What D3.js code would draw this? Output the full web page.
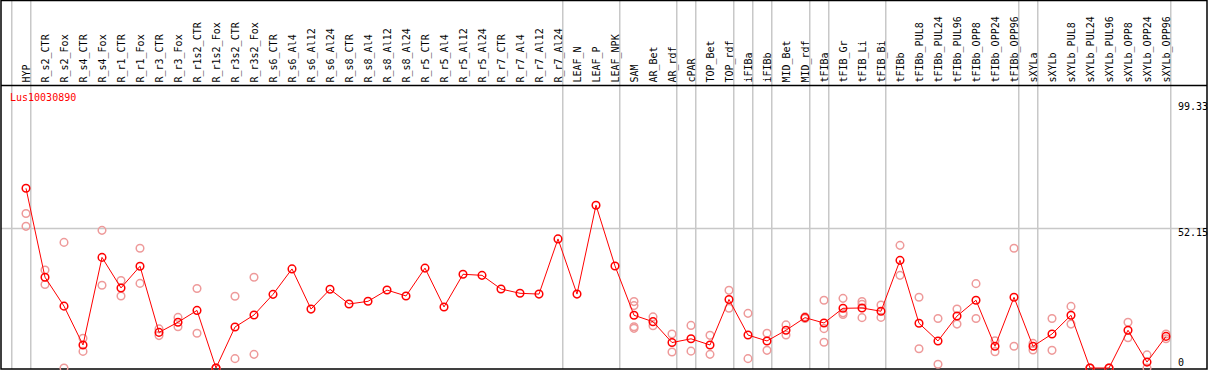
<!DOCTYPE html>
<html>
<head>
<meta charset="utf-8">
<script src="https://cdn.jsdelivr.net/npm/d3@7/dist/d3.min.js"></script>
<style>
  body { margin: 0; background: #fff; }
  svg text { font-family: "DejaVu Sans Mono", monospace; font-size: 10px; }
</style>
</head>
<body>
<div id="chart"></div>
<script>
var geneName = 'Lus10030890';

var categories = [
    'HYP', 'R_s2_CTR', 'R_s2_Fox', 'R_s4_CTR', 'R_s4_Fox', 'R_r1_CTR', 'R_r1_Fox',
    'R_r3_CTR', 'R_r3_Fox', 'R_r1s2_CTR', 'R_r1s2_Fox', 'R_r3s2_CTR', 'R_r3s2_Fox',
    'R_s6_CTR', 'R_s6_Al4', 'R_s6_Al12', 'R_s6_Al24', 'R_s8_CTR', 'R_s8_Al4',
    'R_s8_Al12', 'R_s8_Al24', 'R_r5_CTR', 'R_r5_Al4', 'R_r5_Al12', 'R_r5_Al24',
    'R_r7_CTR', 'R_r7_Al4', 'R_r7_Al12', 'R_r7_Al24', 'LEAF_N', 'LEAF_P', 'LEAF_NPK',
    'SAM', 'AR_Bet', 'AR_rdf', 'cPAR', 'TOP_Bet', 'TOP_rdf', 'iFIBa', 'iFIBb',
    'MID_Bet', 'MID_rdf', 'tFIBa', 'tFIB_Gr', 'tFIB_Li', 'tFIB_Bi', 'tFIBb',
    'tFIBb_PUL8', 'tFIBb_PUL24', 'tFIBb_PUL96', 'tFIBb_OPP8', 'tFIBb_OPP24', 'tFIBb_OPP96',
    'sXYLa', 'sXYLb', 'sXYLb_PUL8', 'sXYLb_PUL24', 'sXYLb_PUL96', 'sXYLb_OPP8',
    'sXYLb_OPP24', 'sXYLb_OPP96'
];

// main (dark) values per sample
var means = [
    67.1, 33.9, 23.1, 8.6, 41.3, 29.9, 38.0,
    13.3, 17.1, 21.5, 0, 15.3, 19.8,
    27.5, 37.0, 22.0, 29.4, 23.9, 24.9,
    29.1, 26.9, 37.3, 22.8, 35.0, 34.6,
    29.5, 27.9, 27.6, 48.2, 27.6, 60.8, 38.1,
    19.7, 17.3, 9.5, 10.9, 8.6, 25.6, 12.3, 10.1,
    14.1, 18.8, 16.8, 22.3, 22.4, 21.2, 40.2,
    16.7, 10.1, 19.4, 25.3, 8.1, 26.4,
    8.1, 12.7, 19.7, 0, 0, 14.1,
    2.2, 11.8
];

// replicate (light) values per sample
var replicates = [
    [57.7, 52.9], [36.6, 31.2], [46.9, 0], [11.1, 6.2], [51.4, 30.9], [32.7, 26.9], [44.7, 31.6],
    [14.6, 12.1], [18.9, 15.4], [29.7, 13.0], [0, 0], [26.8, 3.5], [33.9, 5.1],
    [], [], [], [], [], [],
    [], [], [], [], [], [],
    [], [], [], [], [], [], [],
    [24.8, 23.3, 15.4, 14.8], [19.1, 15.8], [12.7, 6.0], [15.9, 6.3], [12.2, 5.1], [29.0, 22.3], [20.4, 3.5], [13.0, 6.6],
    [16.1, 12.3], [19.1, 18.5], [25.3, 14.7, 9.6], [26.0, 20.6, 20.0], [24.8, 23.8, 18.8], [23.5, 18.9], [45.8, 34.6],
    [26.4, 7.2], [18.5, 1.4], [22.0, 16.4], [31.5, 18.5], [10.2, 6.1], [44.7, 8.1],
    [9.2, 6.7], [18.5, 6.6], [23.0, 16.4], [0, 0], [0, 0], [17.1, 11.3],
    [4.9, 0], [12.7, 10.9]
];

// group separators sit after these sample indices (-1 = before the first)
var separatorsAfter = [-1, 0, 28, 31, 34, 35, 37, 38, 39, 41, 42, 45, 52, 53, 60];

var yTicks = [0, 52.15, 99.33];
var gridTicks = [52.15];

var width = 1209, height = 370;
var headerBottom = 85;

var svg = d3.select('#chart').append('svg')
    .attr('width', width)
    .attr('height', height);

var x = d3.scalePoint()
    .domain(categories)
    .range([26, 1166]);
var step = x.step();

var y = d3.scaleLinear()
    .domain([0, 99.33])
    .range([368, 102]);

// horizontal grid
svg.append('g').selectAll('line')
    .data(gridTicks)
    .enter().append('line')
    .attr('x1', 1).attr('x2', 1207)
    .attr('y1', function (d) { return Math.round(y(d)) + 0.5; })
    .attr('y2', function (d) { return Math.round(y(d)) + 0.5; })
    .attr('stroke', '#c8c8c8')
    .attr('stroke-width', 1.5);

// vertical group separators
svg.append('g').selectAll('line')
    .data(separatorsAfter)
    .enter().append('line')
    .attr('x1', function (d) { return x(categories[0]) + d * step + step * 0.25; })
    .attr('x2', function (d) { return x(categories[0]) + d * step + step * 0.25; })
    .attr('y1', 0).attr('y2', 369)
    .attr('stroke', '#c8c8c8')
    .attr('stroke-width', 1.5);

// frame and header divider
svg.append('rect')
    .attr('x', 1).attr('y', 0.5)
    .attr('width', 1206).attr('height', 368.5)
    .attr('fill', 'none')
    .attr('stroke', '#000')
    .attr('stroke-width', 1.5);

svg.append('line')
    .attr('x1', 1).attr('x2', 1207)
    .attr('y1', headerBottom + 0.5).attr('y2', headerBottom + 0.5)
    .attr('stroke', '#000')
    .attr('stroke-width', 1.5);

// rotated sample labels
svg.append('g').selectAll('text')
    .data(categories)
    .enter().append('text')
    .attr('transform', function (d) {
        return 'translate(' + (x(d) + 3.5) + ',' + (headerBottom - 2.5) + ') rotate(-90)';
    })
    .attr('fill', '#000')
    .text(function (d) { return d; });

// gene name
svg.append('text')
    .attr('x', 10).attr('y', 101)
    .attr('fill', '#ff0000')
    .text(geneName);

// y labels on the right
svg.append('g').selectAll('text')
    .data(yTicks)
    .enter().append('text')
    .attr('x', 1178)
    .attr('y', function (d) { return d === 0 ? y(d) - 2 : y(d) + 8; })
    .attr('fill', '#000')
    .text(function (d) { return d === 0 ? '0' : d.toFixed(2); });

// replicate circles
var repPoints = [];
categories.forEach(function (c, i) {
    replicates[i].forEach(function (v) { repPoints.push({ cat: c, value: v }); });
});

svg.append('g').selectAll('circle')
    .data(repPoints)
    .enter().append('circle')
    .attr('cx', function (d) { return x(d.cat); })
    .attr('cy', function (d) { return y(d.value); })
    .attr('r', 3.8)
    .attr('fill', 'none')
    .attr('stroke', '#ee9a9a')
    .attr('stroke-width', 1.5);

// mean line
var line = d3.line()
    .x(function (d, i) { return x(categories[i]); })
    .y(function (d) { return y(d); });

svg.append('path')
    .datum(means)
    .attr('d', line)
    .attr('fill', 'none')
    .attr('stroke', '#ff0000')
    .attr('stroke-width', 1);

svg.append('g').selectAll('circle')
    .data(means)
    .enter().append('circle')
    .attr('cx', function (d, i) { return x(categories[i]); })
    .attr('cy', function (d) { return y(d); })
    .attr('r', 3.8)
    .attr('fill', 'none')
    .attr('stroke', '#ff0000')
    .attr('stroke-width', 1.5);
</script>
</body>
</html>
